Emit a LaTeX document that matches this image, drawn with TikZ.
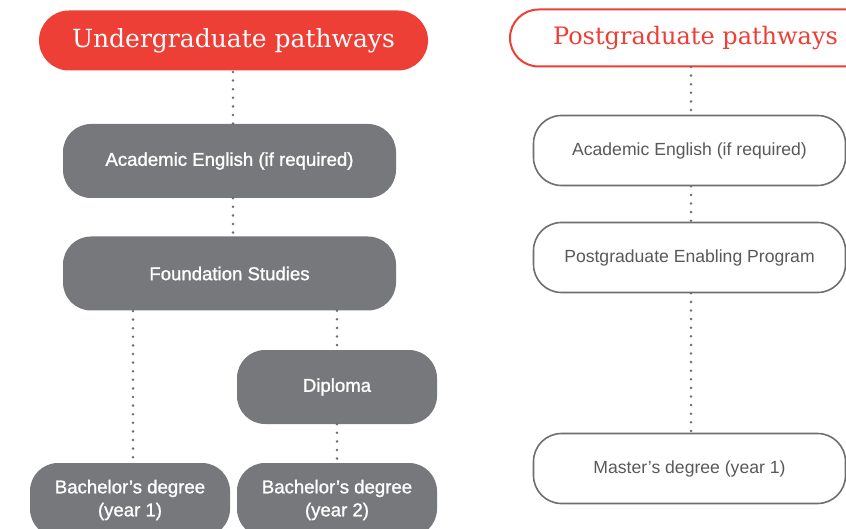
\documentclass[tikz,border=0pt]{standalone}
\usepackage{fontspec}
\setmainfont{Liberation Sans}
\newfontfamily\slabfont{DejaVu Serif}
\newfontfamily\medfont[FakeBold=1.2]{Liberation Sans}
\usetikzlibrary{shapes.misc}
\definecolor{uonred}{HTML}{EE3F37}
\definecolor{boxgrey}{HTML}{77787B}
\definecolor{linegrey}{HTML}{6D6E71}
\definecolor{textgrey}{HTML}{58595B}
\tikzset{head/.style={rounded rectangle, minimum height=60pt, inner sep=0pt, font=\slabfont\fontsize{25}{30}\selectfont},
ugbox/.style={rectangle, rounded corners=28pt, fill=boxgrey, text=white, minimum height=74pt, inner sep=0pt, align=center, font=\medfont\fontsize{18.6}{23}\selectfont},
pgbox/.style={rectangle, rounded corners=28pt, draw=linegrey, line width=1.6pt, fill=white, text=textgrey, minimum width=312pt, minimum height=70pt, inner sep=0pt, font=\fontsize{17.6}{20}\selectfont},
%dotted connectors
dots/.style={draw=linegrey, line width=2.8pt, line cap=round, dash pattern=on 0pt off 8.6pt}}

\begin{document}
\begin{tikzpicture}[x=1pt, y=-1pt]
\useasboundingbox (0,0) rectangle (846,529);
\clip (0,0) rectangle (846,529);
% undergraduate column
\node[head, fill=uonred, text=white, minimum width=389pt] (ughead) at (233.5,40.5) {Undergraduate pathways};
\node[ugbox, minimum width=333pt] (ugeng) at (229.5,161) {Academic English (if required)};
\node[ugbox, minimum width=333pt] (found) at (229.5,273.5) {Foundation Studies};
\node[ugbox, minimum width=200pt] (dipl) at (337,387) {Diploma};
\node[ugbox, minimum width=200pt] (bachone) at (130,500) {Bachelor’s degree\\(year 1)};
\node[ugbox, minimum width=200pt] (bachtwo) at (337,500) {Bachelor’s degree\\(year 2)};
\coordinate (ugtop) at (233,72);
\coordinate (foundl) at (133,311);
\coordinate (bachl) at (133,463);
\draw[dots] (ugtop) -- (ugtop |- ugeng.north);
\draw[dots] (ugeng.south -| ugtop) -- (found.north -| ugtop);
\draw[dots] (foundl) -- (bachl);
\draw[dots] (found.south -| dipl) -- (dipl.north);
\draw[dots] (dipl.south) -- (bachtwo.north);
% postgraduate column
\node[head, draw=uonred, line width=2pt, fill=white, text=uonred, minimum width=371pt, minimum height=57pt, font=\slabfont\fontsize{24}{30}\selectfont] (pghead) at (695.5,38) {Postgraduate pathways};
\node[pgbox] (pgeng) at (689.5,150.5) {Academic English (if required)};
\node[pgbox] (enab) at (689.5,257.5) {Postgraduate Enabling Program};
\node[pgbox] (mast) at (689.5,468.5) {Master’s degree (year 1)};
\coordinate (pgtop) at (691,67);
\draw[dots] (pgtop) -- (pgtop |- pgeng.north);
\draw[dots] (pgeng.south -| pgtop) -- (enab.north -| pgtop);
\draw[dots] (enab.south -| pgtop) -- (mast.north -| pgtop);
\end{tikzpicture}
\end{document}
